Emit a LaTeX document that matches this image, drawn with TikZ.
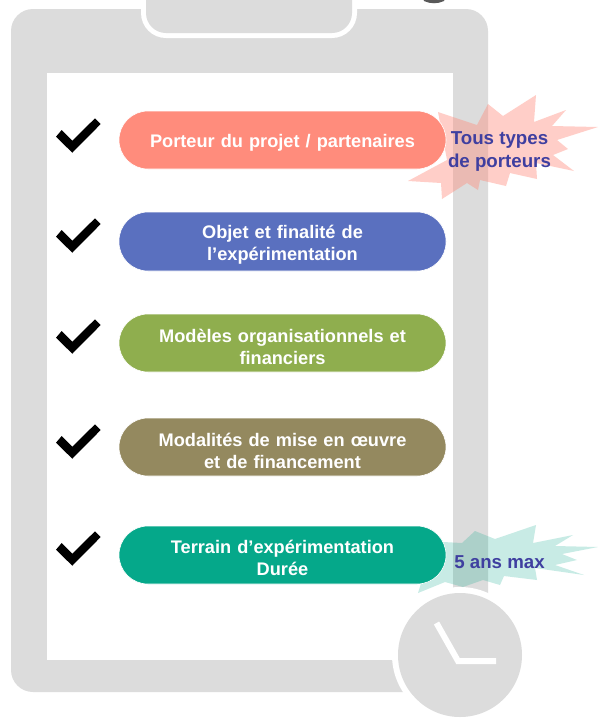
\documentclass[tikz,border=0pt]{standalone}
\usepackage{fontspec}
\setmainfont{Liberation Sans}
\tikzset{
  px/.style={x=1pt,y=-1pt},
  pillbox/.style={rounded corners=28.9pt,draw=white,line width=0.6pt},
  pilltext/.style={text=white,font=\bfseries\fontsize{18.2}{22}\selectfont,align=center,text width=320pt},
  bursttext/.style={text=burstblue,font=\bfseries\fontsize{18.7}{23}\selectfont,align=center},
  checkmark/.style={fill=black},
  boardgray/.style={fill=boardc},
}
\definecolor{boardc}{HTML}{DCDCDC}
\definecolor{burstblue}{HTML}{3F3FA0}
\definecolor{pillA}{HTML}{FF8C7C}
\definecolor{pillB}{HTML}{5A70BF}
\definecolor{pillC}{HTML}{8FAE4E}
\definecolor{pillD}{HTML}{94895F}
\definecolor{pillE}{HTML}{05A88A}
\definecolor{burstA}{HTML}{FF8C7C}
\definecolor{burstB}{HTML}{05A88A}
\newcommand{\chk}[1]{\fill[checkmark,shift={(0,#1)}] (56,236.7)--(72.3,252.7)--(100.7,224)--(95,218.3)--(72.3,240.7)--(61.7,230)--cycle;}
\newcommand{\pillshape}[3]{\fill[pillbox,fill=#3] (119,#1) rectangle (446,#2);}
\begin{document}
\begin{tikzpicture}[px]
\useasboundingbox (0,0) rectangle (598,724);
\fill[white] (0,0) rectangle (598,724);
\clip (0,0) rectangle (598,724);
% top text remnant
\fill[black!65] (423,-2) -- (445,-2) -- (444,1) .. controls (438,4) and (430,4) .. (424,1) -- cycle;
% clipboard
\fill[boardgray,rounded corners=22pt] (11,9) rectangle (488,692);
\fill[white] (47,73) rectangle (453,660);
\fill[white,rounded corners=25pt] (141,-40) rectangle (357,38);
\fill[boardgray,rounded corners=20pt] (146,-40) rectangle (352,33);
% clock
\fill[white] (460,655) circle (68);
\fill[boardgray] (460,655) circle (62);
\draw[white,line width=6pt] (436.5,623) -- (458,661) -- (496,661);
% bursts
\fill[burstA,opacity=0.42] (438,112)--(477,125)--(488,104)--(503,116)--(536,95)--(534,122)--(566,110)--(552,126)--(598,127)--(557,140)--(568,149)--(553,155)--(574,171)--(536,163)--(537,179)--(510,173)--(506,186)--(480,180)--(478,190)--(467,183)--(442,199)--(441,183)--(408,181)--(447,160)--cycle;
\fill[burstB,opacity=0.22] (443,542)--(462,543)--(475,531)--(495,539)--(536,525)--(533,543)--(573,535)--(555,546)--(598,547)--(562,554)--(577,560)--(555,565)--(584,575)--(535,568)--(537,580)--(504,576)--(500,585)--(483,580)--(463,587)--(445,582)--(418,593)--(423,577)--cycle;
% checks
\chk{-100}\chk{0}\chk{101}\chk{206}\chk{313}
% pills
\pillshape{111}{169}{pillA}
\pillshape{212}{271}{pillB}
\pillshape{314}{372}{pillC}
\pillshape{418}{476}{pillD}
\pillshape{526}{584}{pillE}
\node[pilltext] (t1) at (282.5,142.5) {Porteur du projet / partenaires};
\node[pilltext] (t2) at (282.5,245) {Objet et finalité de\\l’expérimentation};
\node[pilltext] (t3) at (282.5,347) {Modèles organisationnels et\\financiers};
\node[pilltext] (t4) at (282.5,451) {Modalités de mise en œuvre\\et de financement};
\node[pilltext] (t5) at (282.5,557.5) {Terrain d’expérimentation\\Durée};
\node[bursttext] (b1) at (499.5,151.5) {Tous types\\de porteurs};
\node[bursttext] (b2) at (499.5,562.5) {5 ans max};
\end{tikzpicture}
\end{document}
